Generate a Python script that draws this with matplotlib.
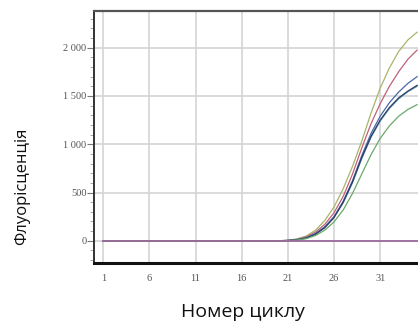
import matplotlib
matplotlib.use("Agg")
import matplotlib.pyplot as plt
from matplotlib.ticker import MultipleLocator, FuncFormatter

cycles = list(range(1, 36))
zeros20 = [0] * 20
olive = zeros20 + [5, 20, 50, 110, 210, 350, 540, 770, 1030, 1320, 1580, 1790, 1960, 2080, 2160]
red = zeros20 + [5, 15, 40, 90, 170, 290, 460, 690, 960, 1210, 1420, 1600, 1750, 1880, 1975]
blue = zeros20 + [3, 12, 32, 75, 145, 250, 410, 620, 880, 1110, 1290, 1430, 1540, 1630, 1700]
navy = zeros20 + [3, 10, 28, 68, 135, 240, 400, 610, 860, 1080, 1250, 1380, 1480, 1550, 1610]
teal = zeros20 + [3, 11, 30, 70, 140, 245, 395, 600, 850, 1070, 1240, 1370, 1470, 1545, 1600]
green = zeros20 + [2, 8, 22, 55, 110, 195, 320, 490, 690, 890, 1060, 1190, 1290, 1360, 1410]
baseline = [0] * 35

xticks = [1, 6, 11, 16, 21, 26, 31]
yticks = [0, 500, 1000, 1500, 2000]

series = [
    (olive, "#a9b468"),
    (red, "#c0607a"),
    (teal, "#5a9aa8"),
    (blue, "#4a68a8"),
    (navy, "#2e3e66"),
    (green, "#6aa86a"),
]

fig = plt.figure(figsize=(4.18, 3.23), dpi=100)
ax = fig.add_axes([94 / 418, 60 / 323, 1 - 94 / 418, (263 - 11) / 323])

for vals, col in series:
    ax.plot(cycles, vals, color=col, lw=0.9, zorder=3)
ax.plot(cycles, baseline, color="#9a6a9a", lw=1.3, zorder=4)

ax.set_xlim(0.0, 35.1)
ax.set_ylim(-230, 2380)
ax.set_xticks(xticks)
ax.set_yticks(yticks)
ax.yaxis.set_minor_locator(MultipleLocator(100))
ax.xaxis.set_minor_locator(MultipleLocator(1))
ax.yaxis.set_major_formatter(FuncFormatter(lambda v, p: f"{int(v):,}".replace(",", " ")))
ax.grid(True, which="major", color="#d4d4d4", lw=1.2, zorder=0)

for lab in ax.get_xticklabels() + ax.get_yticklabels():
    lab.set_fontfamily("Liberation Serif")
    lab.set_fontsize(7.5)
    lab.set_color("#555555")

ax.tick_params(axis="y", which="major", length=5, width=0.8, color="#777777", pad=0.5)
ax.tick_params(axis="y", which="minor", length=3, width=0.6, color="#999999")
ax.tick_params(axis="x", which="major", length=0, pad=8)
ax.tick_params(axis="x", which="minor", length=0)

ax.spines["right"].set_visible(False)
ax.spines["top"].set_color("#555555")
ax.spines["top"].set_linewidth(1.6)
ax.spines["left"].set_color("#333333")
ax.spines["left"].set_linewidth(1.4)
ax.spines["bottom"].set_color("#111111")
ax.spines["bottom"].set_linewidth(2.2)

fig.text(22 / 418, 1 - 186 / 323, "Флуорісценція", rotation=90, ha="center", va="center",
         fontsize=12, family="Open Sans", color="#111111")
fig.text(243 / 418, 1 - 312 / 323, "Номер циклу", ha="center", va="center",
         fontsize=14, family="Open Sans", color="#111111")

fig.savefig("out.png", dpi=100)
